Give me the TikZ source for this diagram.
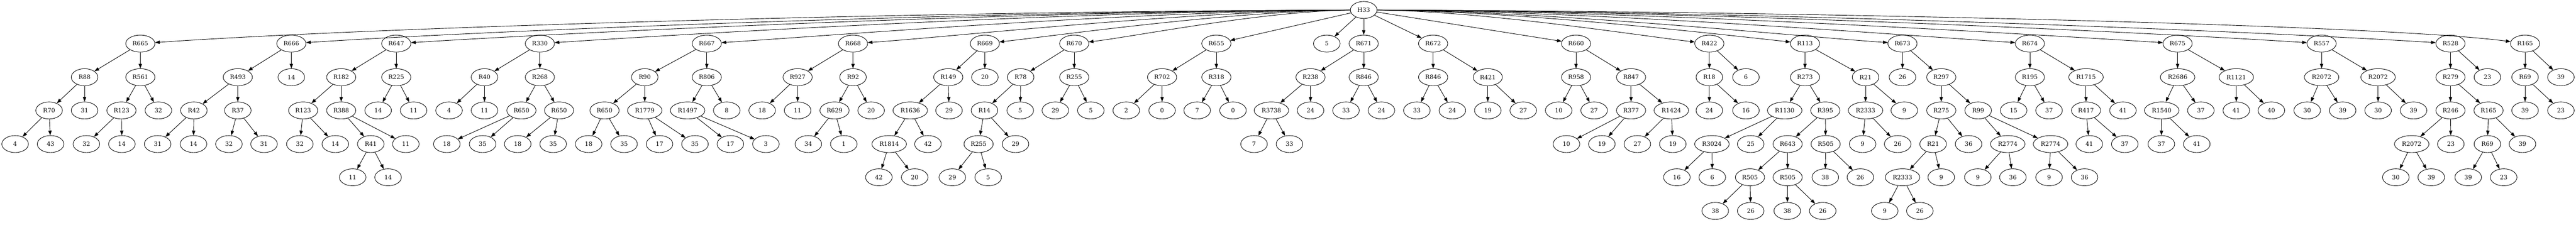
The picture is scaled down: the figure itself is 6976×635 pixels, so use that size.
\documentclass[tikz,border=0pt]{standalone}
\usepackage{tikz}
\usepackage{fontspec}
\setmainfont{DejaVu Serif}
\usetikzlibrary{shapes.geometric,arrows.meta}

\begin{document}
\begin{tikzpicture}[x=0.75pt,y=0.75pt,yscale=-1,xscale=1,
  rnode/.style={draw, ellipse, line width=0.95pt, minimum width=54pt, minimum height=34.5pt, inner xsep=5pt, inner ysep=2pt, font=\fontsize{12}{14}\selectfont},
  conn/.style={line width=0.95pt, -{Triangle[length=9.5pt,width=6.8pt]}}]
%set diagram left start at 0, and has height of 635
\useasboundingbox (0,0) rectangle (6976,635);
\fill[white] (0,0) rectangle (6976,635);

% Root Node
\node[rnode] (h33) at (3693,27) {H33};

% Level 1 Nodes
\node[rnode] (r665) at (380,118) {R665};
\node[rnode] (r666) at (789,118) {R666};
\node[rnode] (r647) at (1073,118) {R647};
\node[rnode] (r330) at (1462,118) {R330};
\node[rnode] (r667) at (1914,118) {R667};
\node[rnode] (r668) at (2310,118) {R668};
\node[rnode] (r669) at (2667,118) {R669};
\node[rnode] (r670) at (2909,118) {R670};
\node[rnode] (r655) at (3294,118) {R655};
\node[rnode] (h33e) at (3593,118) {5};
\node[rnode] (r671) at (3693,118) {R671};
\node[rnode] (r672) at (3881,118) {R672};
\node[rnode] (r660) at (4268,118) {R660};
\node[rnode] (r422) at (4629,118) {R422};
\node[rnode] (r113) at (4888,118) {R113};
\node[rnode] (r673) at (5152,118) {R673};
\node[rnode] (r674) at (5497,118) {R674};
\node[rnode] (r675) at (5897,118) {R675};
\node[rnode] (r557) at (6287,118) {R557};
\node[rnode] (r528) at (6636,118) {R528};
\node[rnode] (r165a) at (6838,118) {R165};

% Subtree R665
\node[rnode] (r88) at (229,209) {R88};
\node[rnode] (r561) at (380,209) {R561};
\node[rnode] (r70) at (133,299) {R70};
\node[rnode] (r88b) at (229,299) {31};
\node[rnode] (r123a) at (329,299) {R123};
\node[rnode] (r561b) at (429,299) {32};
\node[rnode] (r70a) at (41,390) {4};
\node[rnode] (r70b) at (137,390) {43};
\node[rnode] (r123aa) at (234,390) {32};
\node[rnode] (r123ab) at (330,390) {14};

% Subtree R666
\node[rnode] (r493) at (644,209) {R493};
\node[rnode] (r666b) at (789,209) {14};
\node[rnode] (r42) at (525,299) {R42};
\node[rnode] (r37) at (644,299) {R37};
\node[rnode] (r42a) at (427,390) {31};
\node[rnode] (r42b) at (524,390) {14};
\node[rnode] (r37a) at (620,390) {32};
\node[rnode] (r37b) at (715,390) {31};

% Subtree R647
\node[rnode] (r182) at (924,209) {R182};
\node[rnode] (r225) at (1073,209) {R225};
\node[rnode] (r123b) at (821,299) {R123};
\node[rnode] (r388) at (924,299) {R388};
\node[rnode] (r225a) at (1024,299) {14};
\node[rnode] (r225b) at (1120,299) {11};
\node[rnode] (r123ba) at (812,390) {32};
\node[rnode] (r123bb) at (908,390) {14};
\node[rnode] (r41) at (1004,390) {R41};
\node[rnode] (r388b) at (1099,390) {11};
\node[rnode] (r41a) at (955,480) {11};
\node[rnode] (r41b) at (1051,480) {14};

% Subtree R330
\node[rnode] (r40) at (1312,209) {R40};
\node[rnode] (r268) at (1462,209) {R268};
\node[rnode] (r40a) at (1216,299) {4};
\node[rnode] (r40b) at (1312,299) {11};
\node[rnode] (r650a) at (1412,299) {R650};
\node[rnode] (r650b) at (1514,299) {R650};
\node[rnode] (r650aa) at (1210,390) {18};
\node[rnode] (r650ab) at (1307,390) {35};
\node[rnode] (r650ba) at (1402,390) {18};
\node[rnode] (r650bb) at (1498,390) {35};

% Subtree R667
\node[rnode] (r90) at (1746,209) {R90};
\node[rnode] (r806) at (1914,209) {R806};
\node[rnode] (r650c) at (1637,299) {R650};
\node[rnode] (r1779) at (1746,299) {R1779};
\node[rnode] (r1497) at (1862,299) {R1497};
\node[rnode] (r806b) at (1968,299) {8};
\node[rnode] (r650ca) at (1594,390) {18};
\node[rnode] (r650cb) at (1690,390) {35};
\node[rnode] (r1779a) at (1786,390) {17};
\node[rnode] (r1779b) at (1882,390) {35};
\node[rnode] (r1497a) at (1978,390) {17};
\node[rnode] (r1497b) at (2074,390) {3};

% Subtree R668
\node[rnode] (r927) at (2160,209) {R927};
\node[rnode] (r92) at (2310,209) {R92};
\node[rnode] (r927a) at (2064,299) {18};
\node[rnode] (r927b) at (2160,299) {11};
\node[rnode] (r629) at (2260,299) {R629};
\node[rnode] (r92b) at (2359,299) {20};
\node[rnode] (r629a) at (2189,390) {34};
\node[rnode] (r629b) at (2285,390) {1};

% Subtree R669
\node[rnode] (r149) at (2568,209) {R149};
\node[rnode] (r669b) at (2667,209) {20};
\node[rnode] (r1636) at (2465,299) {R1636};
\node[rnode] (r149b) at (2570,299) {29};
\node[rnode] (r1814) at (2408,390) {R1814};
\node[rnode] (r1636b) at (2513,390) {42};
\node[rnode] (r1814a) at (2380,480) {42};
\node[rnode] (r1814b) at (2477,480) {20};

% Subtree R670
\node[rnode] (r78) at (2764,209) {R78};
\node[rnode] (r255a) at (2909,209) {R255};
\node[rnode] (r14) at (2666,299) {R14};
\node[rnode] (r78b) at (2763,299) {5};
\node[rnode] (r255aa) at (2858,299) {29};
\node[rnode] (r255ab) at (2954,299) {5};
\node[rnode] (r255b) at (2650,390) {R255};
\node[rnode] (r14b) at (2750,390) {29};
\node[rnode] (r255ba) at (2579,480) {29};
\node[rnode] (r255bb) at (2676,480) {5};

% Subtree R655
\node[rnode] (r702) at (3147,209) {R702};
\node[rnode] (r318) at (3294,209) {R318};
\node[rnode] (r702a) at (3050,299) {2};
\node[rnode] (r702b) at (3147,299) {0};
\node[rnode] (r318a) at (3242,299) {7};
\node[rnode] (r318b) at (3339,299) {0};

% Subtree R671
\node[rnode] (r238) at (3549,209) {R238};
\node[rnode] (r846a) at (3693,209) {R846};
\node[rnode] (r3738) at (3443,299) {R3738};
\node[rnode] (r238b) at (3549,299) {24};
\node[rnode] (r846aa) at (3645,299) {33};
\node[rnode] (r846ab) at (3741,299) {24};
\node[rnode] (r3738a) at (3396,390) {7};
\node[rnode] (r3738b) at (3492,390) {33};

% Subtree R672
\node[rnode] (r846b) at (3881,209) {R846};
\node[rnode] (r421) at (4029,209) {R421};
\node[rnode] (r846ba) at (3837,299) {33};
\node[rnode] (r846bb) at (3933,299) {24};
\node[rnode] (r421a) at (4029,299) {19};
\node[rnode] (r421b) at (4125,299) {27};

% Subtree R660
\node[rnode] (r958) at (4268,209) {R958};
\node[rnode] (r847) at (4417,209) {R847};
\node[rnode] (r958a) at (4221,299) {10};
\node[rnode] (r958b) at (4317,299) {27};
\node[rnode] (r377) at (4417,299) {R377};
\node[rnode] (r1424) at (4526,299) {R1424};
\node[rnode] (r377a) at (4242,390) {10};
\node[rnode] (r377b) at (4338,390) {19};
\node[rnode] (r1424a) at (4434,390) {27};
\node[rnode] (r1424b) at (4530,390) {19};

% Subtree R422
\node[rnode] (r18) at (4629,209) {R18};
\node[rnode] (r422b) at (4728,209) {6};
\node[rnode] (r18a) at (4629,299) {24};
\node[rnode] (r18b) at (4728,299) {16};

% Subtree R113
\node[rnode] (r273) at (4888,209) {R273};
\node[rnode] (r21a) at (5052,209) {R21};
\node[rnode] (r1130) at (4833,299) {R1130};
\node[rnode] (r395) at (4943,299) {R395};
\node[rnode] (r2333a) at (5052,299) {R2333};
\node[rnode] (r21ab) at (5157,299) {9};
\node[rnode] (r3024) at (4636,390) {R3024};
\node[rnode] (r1130b) at (4741,390) {25};
\node[rnode] (r643) at (4841,390) {R643};
\node[rnode] (r505a) at (4944,390) {R505};
\node[rnode] (r2333aa) at (5044,390) {9};
\node[rnode] (r2333ab) at (5139,390) {26};
\node[rnode] (r3024a) at (4541,480) {16};
\node[rnode] (r3024b) at (4637,480) {6};
\node[rnode] (r505b) at (4739,480) {R505};
\node[rnode] (r505c) at (4841,480) {R505};
\node[rnode] (r505aa) at (4943,480) {38};
\node[rnode] (r505ab) at (5038,480) {26};
\node[rnode] (r505ba) at (4645,571) {38};
\node[rnode] (r505bb) at (4741,571) {26};
\node[rnode] (r505ca) at (4840,571) {38};
\node[rnode] (r505cb) at (4936,571) {26};

% Subtree R673
\node[rnode] (r673a) at (5152,209) {26};
\node[rnode] (r297) at (5257,209) {R297};
\node[rnode] (r275) at (5257,299) {R275};
\node[rnode] (r99) at (5357,299) {R99};
\node[rnode] (r21b) at (5235,390) {R21};
\node[rnode] (r275b) at (5331,390) {36};
\node[rnode] (r2774a) at (5437,390) {R2774};
\node[rnode] (r2774b) at (5553,390) {R2774};
\node[rnode] (r2333b) at (5152,480) {R2333};
\node[rnode] (r21bb) at (5257,480) {9};
\node[rnode] (r2774aa) at (5356,480) {9};
\node[rnode] (r2774ab) at (5451,480) {36};
\node[rnode] (r2774ba) at (5549,480) {9};
\node[rnode] (r2774bb) at (5645,480) {36};
\node[rnode] (r2333ba) at (5104,571) {9};
\node[rnode] (r2333bb) at (5199,571) {26};

% Subtree R674
\node[rnode] (r195) at (5497,209) {R195};
\node[rnode] (r1715) at (5649,209) {R1715};
\node[rnode] (r195a) at (5453,299) {15};
\node[rnode] (r195b) at (5549,299) {37};
\node[rnode] (r417) at (5649,299) {R417};
\node[rnode] (r1715b) at (5749,299) {41};
\node[rnode] (r417a) at (5658,390) {41};
\node[rnode] (r417b) at (5754,390) {37};

% Subtree R675
\node[rnode] (r2686) at (5897,209) {R2686};
\node[rnode] (r1121) at (6056,209) {R1121};
\node[rnode] (r1540) at (5854,299) {R1540};
\node[rnode] (r2686b) at (5960,299) {37};
\node[rnode] (r1121a) at (6056,299) {41};
\node[rnode] (r1121b) at (6151,299) {40};
\node[rnode] (r1540a) at (5853,390) {37};
\node[rnode] (r1540b) at (5949,390) {41};

% Subtree R557
\node[rnode] (r2072a) at (6287,209) {R2072};
\node[rnode] (r2072b) at (6440,209) {R2072};
\node[rnode] (r2072aa) at (6248,299) {30};
\node[rnode] (r2072ab) at (6344,299) {39};
\node[rnode] (r2072ba) at (6440,299) {30};
\node[rnode] (r2072bb) at (6536,299) {39};

% Subtree R528
\node[rnode] (r279) at (6636,209) {R279};
\node[rnode] (r528b) at (6736,209) {23};
\node[rnode] (r246) at (6636,299) {R246};
\node[rnode] (r165b) at (6739,299) {R165};
\node[rnode] (r2072c) at (6531,390) {R2072};
\node[rnode] (r246b) at (6637,390) {23};
\node[rnode] (r69b) at (6736,390) {R69};
\node[rnode] (r165bb) at (6831,390) {39};
\node[rnode] (r2072ca) at (6488,480) {30};
\node[rnode] (r2072cb) at (6584,480) {39};
\node[rnode] (r69ba) at (6684,480) {39};
\node[rnode] (r69bb) at (6780,480) {23};

% Subtree R165
\node[rnode] (r69a) at (6838,209) {R69};
\node[rnode] (r165ab) at (6935,209) {39};
\node[rnode] (r69aa) at (6838,299) {39};
\node[rnode] (r69ab) at (6935,299) {23};

% Curved Lines from root
\draw[conn] (h33) .. controls (2533,30) and (1043,72) .. (r665);
\draw[conn] (h33) .. controls (2677,30) and (1370,80) .. (r666);
\draw[conn] (h33) .. controls (2776,30) and (1597,85) .. (r647);
\draw[conn] (h33) .. controls (2912,30) and (1908,89) .. (r330);
\draw[conn] (h33) .. controls (3070,30) and (2270,95) .. (r667);
\draw[conn] (h33) .. controls (3209,30) and (2587,99) .. (r668);
\draw[conn] (h33) .. controls (3334,30) and (2872,95) .. (r669);
\draw[conn] (h33) .. controls (3419,30) and (3066,100) .. (r670);
\draw[conn] (h33) .. controls (4021,30) and (4442,97) .. (r422);
\draw[conn] (h33) .. controls (4111,30) and (4649,92) .. (r113);
\draw[conn] (h33) .. controls (4204,30) and (4860,98) .. (r673);
\draw[conn] (h33) .. controls (4324,30) and (5136,94) .. (r674);
\draw[conn] (h33) .. controls (4464,30) and (5456,90) .. (r675);
\draw[conn] (h33) .. controls (4601,30) and (5768,85) .. (r557);
\draw[conn] (h33) .. controls (4723,30) and (6047,81) .. (r528);
\draw[conn] (h33) .. controls (4794,30) and (6438,65) .. (r165a);
% Straight Lines from root
\draw[conn] (h33) -- (r655);
\draw[conn] (h33) -- (h33e);
\draw[conn] (h33) -- (r671);
\draw[conn] (h33) -- (r672);
\draw[conn] (h33) -- (r660);

% Straight Lines R665
\draw[conn] (r665) -- (r88);
\draw[conn] (r665) -- (r561);
\draw[conn] (r88) -- (r70);
\draw[conn] (r88) -- (r88b);
\draw[conn] (r561) -- (r123a);
\draw[conn] (r561) -- (r561b);
\draw[conn] (r70) -- (r70a);
\draw[conn] (r70) -- (r70b);
\draw[conn] (r123a) -- (r123aa);
\draw[conn] (r123a) -- (r123ab);

% Straight Lines R666
\draw[conn] (r666) -- (r493);
\draw[conn] (r666) -- (r666b);
\draw[conn] (r493) -- (r42);
\draw[conn] (r493) -- (r37);
\draw[conn] (r42) -- (r42a);
\draw[conn] (r42) -- (r42b);
\draw[conn] (r37) -- (r37a);
\draw[conn] (r37) -- (r37b);

% Straight Lines R647
\draw[conn] (r647) -- (r182);
\draw[conn] (r647) -- (r225);
\draw[conn] (r182) -- (r123b);
\draw[conn] (r182) -- (r388);
\draw[conn] (r225) -- (r225a);
\draw[conn] (r225) -- (r225b);
\draw[conn] (r123b) -- (r123ba);
\draw[conn] (r123b) -- (r123bb);
\draw[conn] (r388) -- (r41);
\draw[conn] (r388) -- (r388b);
\draw[conn] (r41) -- (r41a);
\draw[conn] (r41) -- (r41b);

% Straight Lines R330
\draw[conn] (r330) -- (r40);
\draw[conn] (r330) -- (r268);
\draw[conn] (r40) -- (r40a);
\draw[conn] (r40) -- (r40b);
\draw[conn] (r268) -- (r650a);
\draw[conn] (r268) -- (r650b);
\draw[conn] (r650a) -- (r650aa);
\draw[conn] (r650a) -- (r650ab);
\draw[conn] (r650b) -- (r650ba);
\draw[conn] (r650b) -- (r650bb);

% Straight Lines R667
\draw[conn] (r667) -- (r90);
\draw[conn] (r667) -- (r806);
\draw[conn] (r90) -- (r650c);
\draw[conn] (r90) -- (r1779);
\draw[conn] (r806) -- (r1497);
\draw[conn] (r806) -- (r806b);
\draw[conn] (r650c) -- (r650ca);
\draw[conn] (r650c) -- (r650cb);
\draw[conn] (r1779) -- (r1779a);
\draw[conn] (r1779) -- (r1779b);
\draw[conn] (r1497) -- (r1497a);
\draw[conn] (r1497) -- (r1497b);

% Straight Lines R668
\draw[conn] (r668) -- (r927);
\draw[conn] (r668) -- (r92);
\draw[conn] (r927) -- (r927a);
\draw[conn] (r927) -- (r927b);
\draw[conn] (r92) -- (r629);
\draw[conn] (r92) -- (r92b);
\draw[conn] (r629) -- (r629a);
\draw[conn] (r629) -- (r629b);

% Straight Lines R669
\draw[conn] (r669) -- (r149);
\draw[conn] (r669) -- (r669b);
\draw[conn] (r149) -- (r1636);
\draw[conn] (r149) -- (r149b);
\draw[conn] (r1636) -- (r1814);
\draw[conn] (r1636) -- (r1636b);
\draw[conn] (r1814) -- (r1814a);
\draw[conn] (r1814) -- (r1814b);

% Straight Lines R670
\draw[conn] (r670) -- (r78);
\draw[conn] (r670) -- (r255a);
\draw[conn] (r78) -- (r14);
\draw[conn] (r78) -- (r78b);
\draw[conn] (r255a) -- (r255aa);
\draw[conn] (r255a) -- (r255ab);
\draw[conn] (r14) -- (r255b);
\draw[conn] (r14) -- (r14b);
\draw[conn] (r255b) -- (r255ba);
\draw[conn] (r255b) -- (r255bb);

% Straight Lines R655
\draw[conn] (r655) -- (r702);
\draw[conn] (r655) -- (r318);
\draw[conn] (r702) -- (r702a);
\draw[conn] (r702) -- (r702b);
\draw[conn] (r318) -- (r318a);
\draw[conn] (r318) -- (r318b);

% Straight Lines R671
\draw[conn] (r671) -- (r238);
\draw[conn] (r671) -- (r846a);
\draw[conn] (r238) -- (r3738);
\draw[conn] (r238) -- (r238b);
\draw[conn] (r846a) -- (r846aa);
\draw[conn] (r846a) -- (r846ab);
\draw[conn] (r3738) -- (r3738a);
\draw[conn] (r3738) -- (r3738b);

% Straight Lines R672
\draw[conn] (r672) -- (r846b);
\draw[conn] (r672) -- (r421);
\draw[conn] (r846b) -- (r846ba);
\draw[conn] (r846b) -- (r846bb);
\draw[conn] (r421) -- (r421a);
\draw[conn] (r421) -- (r421b);

% Straight Lines R660
\draw[conn] (r660) -- (r958);
\draw[conn] (r660) -- (r847);
\draw[conn] (r958) -- (r958a);
\draw[conn] (r958) -- (r958b);
\draw[conn] (r847) -- (r377);
\draw[conn] (r847) -- (r1424);
\draw[conn] (r377) -- (r377a);
\draw[conn] (r377) -- (r377b);
\draw[conn] (r1424) -- (r1424a);
\draw[conn] (r1424) -- (r1424b);

% Straight Lines R422
\draw[conn] (r422) -- (r18);
\draw[conn] (r422) -- (r422b);
\draw[conn] (r18) -- (r18a);
\draw[conn] (r18) -- (r18b);

% Straight Lines R113
\draw[conn] (r113) -- (r273);
\draw[conn] (r113) -- (r21a);
\draw[conn] (r273) -- (r1130);
\draw[conn] (r273) -- (r395);
\draw[conn] (r21a) -- (r2333a);
\draw[conn] (r21a) -- (r21ab);
\draw[conn] (r1130) -- (r3024);
\draw[conn] (r1130) -- (r1130b);
\draw[conn] (r395) -- (r643);
\draw[conn] (r395) -- (r505a);
\draw[conn] (r2333a) -- (r2333aa);
\draw[conn] (r2333a) -- (r2333ab);
\draw[conn] (r3024) -- (r3024a);
\draw[conn] (r3024) -- (r3024b);
\draw[conn] (r643) -- (r505b);
\draw[conn] (r643) -- (r505c);
\draw[conn] (r505a) -- (r505aa);
\draw[conn] (r505a) -- (r505ab);
\draw[conn] (r505b) -- (r505ba);
\draw[conn] (r505b) -- (r505bb);
\draw[conn] (r505c) -- (r505ca);
\draw[conn] (r505c) -- (r505cb);

% Straight Lines R673
\draw[conn] (r673) -- (r673a);
\draw[conn] (r673) -- (r297);
\draw[conn] (r297) -- (r275);
\draw[conn] (r297) -- (r99);
\draw[conn] (r275) -- (r21b);
\draw[conn] (r275) -- (r275b);
\draw[conn] (r99) -- (r2774a);
\draw[conn] (r99) -- (r2774b);
\draw[conn] (r21b) -- (r2333b);
\draw[conn] (r21b) -- (r21bb);
\draw[conn] (r2774a) -- (r2774aa);
\draw[conn] (r2774a) -- (r2774ab);
\draw[conn] (r2774b) -- (r2774ba);
\draw[conn] (r2774b) -- (r2774bb);
\draw[conn] (r2333b) -- (r2333ba);
\draw[conn] (r2333b) -- (r2333bb);

% Straight Lines R674
\draw[conn] (r674) -- (r195);
\draw[conn] (r674) -- (r1715);
\draw[conn] (r195) -- (r195a);
\draw[conn] (r195) -- (r195b);
\draw[conn] (r1715) -- (r417);
\draw[conn] (r1715) -- (r1715b);
\draw[conn] (r417) -- (r417a);
\draw[conn] (r417) -- (r417b);

% Straight Lines R675
\draw[conn] (r675) -- (r2686);
\draw[conn] (r675) -- (r1121);
\draw[conn] (r2686) -- (r1540);
\draw[conn] (r2686) -- (r2686b);
\draw[conn] (r1121) -- (r1121a);
\draw[conn] (r1121) -- (r1121b);
\draw[conn] (r1540) -- (r1540a);
\draw[conn] (r1540) -- (r1540b);

% Straight Lines R557
\draw[conn] (r557) -- (r2072a);
\draw[conn] (r557) -- (r2072b);
\draw[conn] (r2072a) -- (r2072aa);
\draw[conn] (r2072a) -- (r2072ab);
\draw[conn] (r2072b) -- (r2072ba);
\draw[conn] (r2072b) -- (r2072bb);

% Straight Lines R528
\draw[conn] (r528) -- (r279);
\draw[conn] (r528) -- (r528b);
\draw[conn] (r279) -- (r246);
\draw[conn] (r279) -- (r165b);
\draw[conn] (r246) -- (r2072c);
\draw[conn] (r246) -- (r246b);
\draw[conn] (r165b) -- (r69b);
\draw[conn] (r165b) -- (r165bb);
\draw[conn] (r2072c) -- (r2072ca);
\draw[conn] (r2072c) -- (r2072cb);
\draw[conn] (r69b) -- (r69ba);
\draw[conn] (r69b) -- (r69bb);

% Straight Lines R165
\draw[conn] (r165a) -- (r69a);
\draw[conn] (r165a) -- (r165ab);
\draw[conn] (r69a) -- (r69aa);
\draw[conn] (r69a) -- (r69ab);

\end{tikzpicture}
\end{document}
